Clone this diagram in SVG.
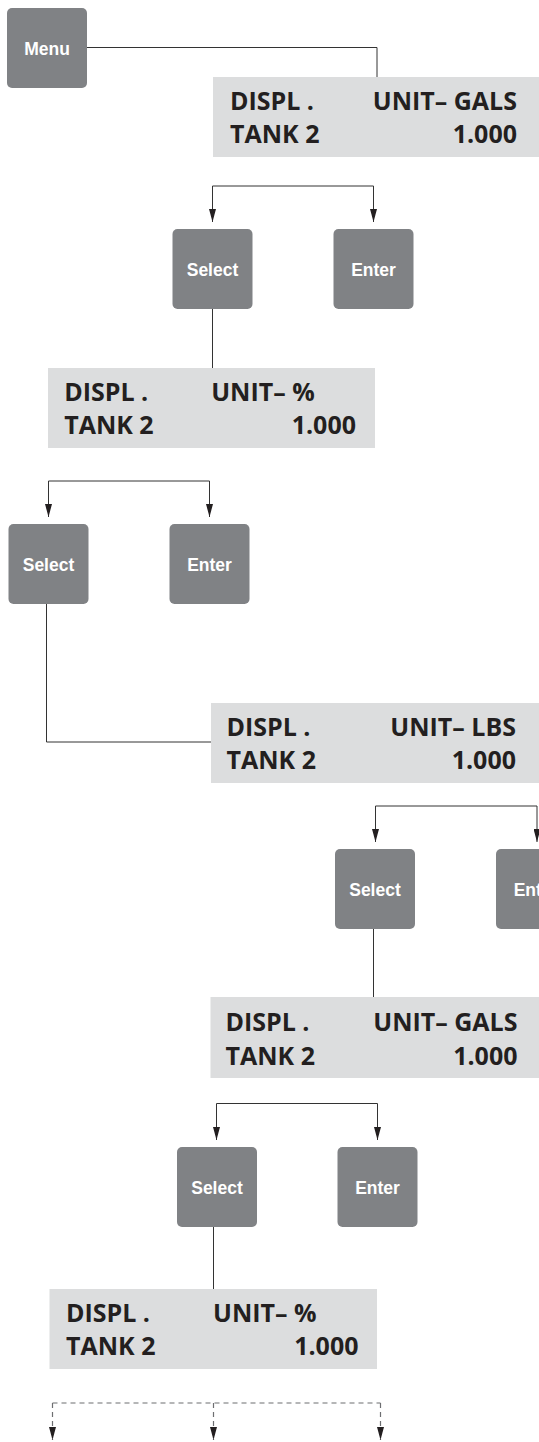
<svg xmlns="http://www.w3.org/2000/svg" width="539" height="1442" viewBox="0 0 539 1442">
<defs>
<style>
.btn{fill:#808285}
.btxt{font-family:"Liberation Sans",Arial,sans-serif;font-weight:bold;font-size:17.5px;fill:#ffffff;text-anchor:middle}
.disp{fill:#dcddde}
.dtxt{font-family:"Open Sans","Noto Sans",sans-serif;font-weight:bold;font-size:25px;fill:#231f20}
.end{text-anchor:end}
.ln{fill:none;stroke:#333333;stroke-width:1}
.ar{fill:none;stroke:#333333;stroke-width:1;marker-end:url(#ah)}
.dash{fill:none;stroke:#6d6e71;stroke-width:1.2;stroke-dasharray:5 4}
.dar{fill:none;stroke:#6d6e71;stroke-width:1.2;stroke-dasharray:5 4;marker-end:url(#ah)}
</style>
<marker id="ah" viewBox="0 0 13 7" refX="13" refY="3.5" markerWidth="13" markerHeight="7" markerUnits="userSpaceOnUse" orient="auto">
<path d="M0,0 L13,3.5 L0,7 Z" fill="#231f20"/>
</marker>
</defs>
<rect width="539" height="1442" fill="#ffffff"/>

<g id="connectors">
<path class="ln" d="M87,47.5 H377 V77"/>
<path class="ar" d="M212.5,186 V222"/>
<path class="ar" d="M212.5,186 H373.5 V222"/>
<path class="ln" d="M212.5,309 V368"/>
<path class="ar" d="M48.5,481 V517"/>
<path class="ar" d="M48.5,481 H209.5 V517"/>
<path class="ln" d="M46.5,604 V742 H211"/>
<path class="ar" d="M375.5,806 V842"/>
<path class="ar" d="M375.5,806 H537 V842"/>
<path class="ln" d="M373.5,929 V997"/>
<path class="ar" d="M216.5,1103.5 V1140"/>
<path class="ar" d="M216.5,1103.5 H377.5 V1140"/>
<path class="ln" d="M213.5,1227 V1289"/>
<path class="dash" d="M52.5,1403 H380.5"/>
<path class="dar" d="M52.5,1403 V1440"/>
<path class="dar" d="M213.5,1403 V1440"/>
<path class="dar" d="M380.5,1403 V1440"/>
</g>

<g id="menu">
<rect class="btn" x="7" y="8" width="80" height="80" rx="5"/>
<text class="btxt" x="47" y="54.5">Menu</text>
</g>

<g id="display1">
<rect class="disp" x="213" y="77" width="326" height="80"/>
<text class="dtxt" x="230" y="110">DISPL .</text>
<text class="dtxt end" x="517" y="110">UNIT– GALS</text>
<text class="dtxt" x="230" y="143">TANK 2</text>
<text class="dtxt end" x="517" y="143">1.000</text>
</g>

<g id="select1">
<rect class="btn" x="172.5" y="229" width="80" height="80" rx="5"/>
<text class="btxt" x="212.5" y="276">Select</text>
</g>
<g id="enter1">
<rect class="btn" x="333.5" y="229" width="80" height="80" rx="5"/>
<text class="btxt" x="373.5" y="276">Enter</text>
</g>

<g id="display2">
<rect class="disp" x="48" y="368" width="327" height="80"/>
<text class="dtxt" x="64.2" y="401">DISPL .</text>
<text class="dtxt" x="211.2" y="401">UNIT– %</text>
<text class="dtxt" x="64.2" y="434">TANK 2</text>
<text class="dtxt end" x="356" y="434">1.000</text>
</g>

<g id="select2">
<rect class="btn" x="8.5" y="524" width="80" height="80" rx="5"/>
<text class="btxt" x="48.5" y="571">Select</text>
</g>
<g id="enter2">
<rect class="btn" x="169.5" y="524" width="80" height="80" rx="5"/>
<text class="btxt" x="209.5" y="571">Enter</text>
</g>

<g id="display3">
<rect class="disp" x="211" y="703" width="328" height="80"/>
<text class="dtxt" x="226.5" y="736">DISPL .</text>
<text class="dtxt end" x="516" y="736">UNIT– LBS</text>
<text class="dtxt" x="226.5" y="769">TANK 2</text>
<text class="dtxt end" x="516" y="769">1.000</text>
</g>

<g id="select3">
<rect class="btn" x="335" y="849" width="80" height="80" rx="5"/>
<text class="btxt" x="375" y="896">Select</text>
</g>
<g id="enter3">
<rect class="btn" x="496" y="849" width="80" height="80" rx="5"/>
<text class="btxt" x="536" y="896">Enter</text>
</g>

<g id="display4">
<rect class="disp" x="210.5" y="997" width="328.5" height="81"/>
<text class="dtxt" x="225.5" y="1031">DISPL .</text>
<text class="dtxt end" x="517.5" y="1031">UNIT– GALS</text>
<text class="dtxt" x="225.5" y="1065">TANK 2</text>
<text class="dtxt end" x="517.5" y="1065">1.000</text>
</g>

<g id="select4">
<rect class="btn" x="177" y="1147" width="80" height="80" rx="5"/>
<text class="btxt" x="217" y="1194">Select</text>
</g>
<g id="enter4">
<rect class="btn" x="337.5" y="1147" width="80" height="80" rx="5"/>
<text class="btxt" x="377.5" y="1194">Enter</text>
</g>

<g id="display5">
<rect class="disp" x="49.5" y="1289" width="327.5" height="80"/>
<text class="dtxt" x="66" y="1322">DISPL .</text>
<text class="dtxt" x="213" y="1322">UNIT– %</text>
<text class="dtxt" x="66" y="1355">TANK 2</text>
<text class="dtxt end" x="358.5" y="1355">1.000</text>
</g>
</svg>
